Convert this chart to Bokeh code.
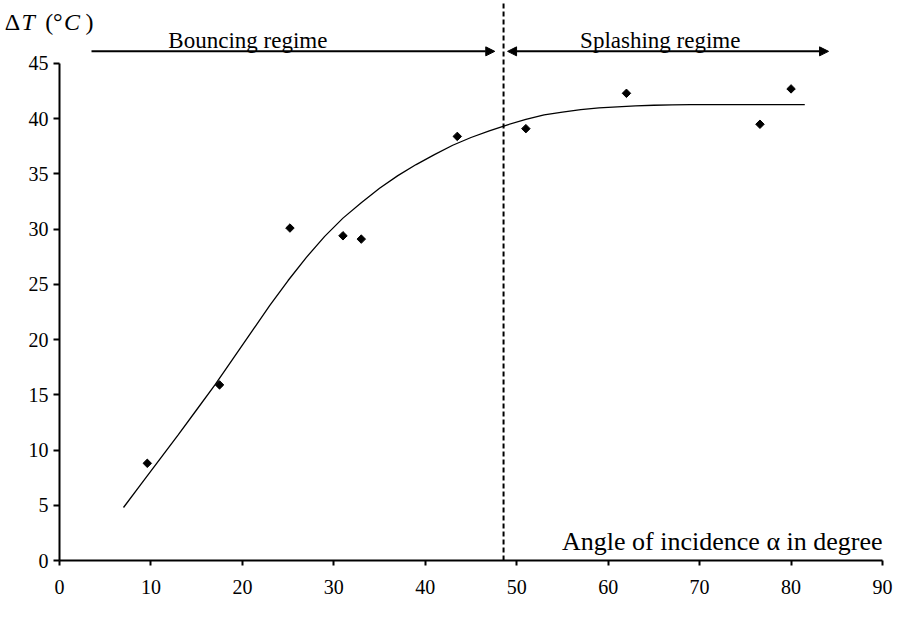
from bokeh.plotting import figure
from bokeh.models import (Range1d, FixedTicker, Label, Arrow, NormalHead,
                          ColumnDataSource, LinearAxis)
from bokeh.embed import file_html
from bokeh.resources import INLINE
import math

# ---- data ----
angle = [9.6, 17.5, 25.2, 31.0, 33.0, 43.5, 51.0, 62.0, 76.6, 80.0]
delta_t = [8.8, 15.9, 30.1, 29.4, 29.1, 38.4, 39.1, 42.3, 39.5, 42.7]

fit_x = [7, 9, 11, 13, 15, 17, 19, 21, 23, 25, 27, 29, 31, 33, 35, 37, 39, 41,
         43, 45, 47, 49, 51, 53, 55, 57, 59, 61, 63, 65, 67, 69, 81.5]
fit_y = [4.8, 7.0, 9.2, 11.4, 13.65, 15.9, 18.3, 20.7, 23.1, 25.35, 27.45, 29.35,
         31.0, 32.4, 33.7, 34.85, 35.85, 36.75, 37.6, 38.3, 38.9, 39.45, 39.95,
         40.35, 40.6, 40.82, 40.98, 41.08, 41.16, 41.22, 41.26, 41.28, 41.28]

x_ticks = [0, 10, 20, 30, 40, 50, 60, 70, 80, 90]
y_ticks = [0, 5, 10, 15, 20, 25, 30, 35, 40, 45]

regime_boundary = 48.56
bouncing_span = (3.5, 47.6)
splashing_span = (49.0, 84.1)
regime_arrow_level = 46.1

FONT = "Liberation Serif"

# frame covers the whole canvas; axes are drawn at x=0 / y=0
p = figure(width=893, height=603, output_backend="svg", toolbar_location=None,
           x_range=Range1d(-6.452, 91.203), y_range=Range1d(-3.893, 50.704),
           x_axis_location=None, y_axis_location=None,
           min_border_left=0, min_border_right=0, min_border_top=0,
           min_border_bottom=0)
p.outline_line_color = None
p.grid.visible = False
p.background_fill_color = "white"
p.border_fill_color = "white"

xaxis = LinearAxis(fixed_location=0, bounds=(0, 90), ticker=FixedTicker(ticks=x_ticks))
yaxis = LinearAxis(fixed_location=0, bounds=(0, 45), ticker=FixedTicker(ticks=y_ticks))
for ax in (xaxis, yaxis):
    ax.axis_line_width = 2
    ax.axis_line_color = "black"
    ax.major_tick_line_width = 2
    ax.major_tick_line_color = "black"
    ax.minor_tick_line_color = None
    ax.major_tick_in = 0
    ax.major_label_text_font = FONT
    ax.major_label_text_font_size = "20px"
    ax.major_label_text_color = "black"
xaxis.major_tick_out = 5
xaxis.major_label_standoff = 14
yaxis.major_tick_out = 6
yaxis.major_label_standoff = 5
p.add_layout(xaxis, "below")
p.add_layout(yaxis, "left")

# regime boundary (dashed), from the x axis up to the top
p.segment(x0=[regime_boundary], y0=[0], x1=[regime_boundary], y1=[p.y_range.end],
          line_color="black", line_width=2, line_dash="5 3")

# fitted curve
p.line(fit_x, fit_y, line_color="black", line_width=1.3)

# measured points
src = ColumnDataSource(dict(x=angle, y=delta_t))
p.scatter("x", "y", source=src, marker="square", size=6, angle=math.pi / 4,
          fill_color="black", line_color="black")

# regime arrows
p.add_layout(Arrow(x_start=bouncing_span[0], y_start=regime_arrow_level,
                   x_end=bouncing_span[1], y_end=regime_arrow_level,
                   line_width=2, line_color="black",
                   end=NormalHead(size=9, fill_color="black", line_color="black")))
p.add_layout(Arrow(x_start=splashing_span[0], y_start=regime_arrow_level,
                   x_end=splashing_span[1], y_end=regime_arrow_level,
                   line_width=2, line_color="black",
                   start=NormalHead(size=9, fill_color="black", line_color="black"),
                   end=NormalHead(size=9, fill_color="black", line_color="black")))

p.add_layout(Label(x=20.6, y=47.08, text="Bouncing regime", text_align="center",
                   text_baseline="alphabetic", text_font=FONT,
                   text_font_size="23px", text_color="black"))
p.add_layout(Label(x=65.7, y=47.08, text="Splashing regime", text_align="center",
                   text_baseline="alphabetic", text_font=FONT,
                   text_font_size="23px", text_color="black"))

# x axis title inside the plot
p.add_layout(Label(x=90.0, y=1.75, text="Angle of incidence α in degree",
                   text_align="right", text_baseline="alphabetic", text_font=FONT,
                   text_font_size="26px", text_color="black"))

# y axis title: ΔT (°C) with italic T and C
pieces = [(-6.0, "Δ", "normal"), (-4.15, "T", "italic"), (-1.55, "(", "normal"),
          (-0.7, "°", "normal"), (0.5, "C", "italic"), (2.85, ")", "normal")]
for xx, tt, st in pieces:
    p.add_layout(Label(x=xx, y=48.8, text=tt, text_align="left",
                       text_baseline="alphabetic", text_font=FONT,
                       text_font_style=st, text_font_size="24px",
                       text_color="black"))

open("out.html", "w").write(file_html(p, INLINE))
